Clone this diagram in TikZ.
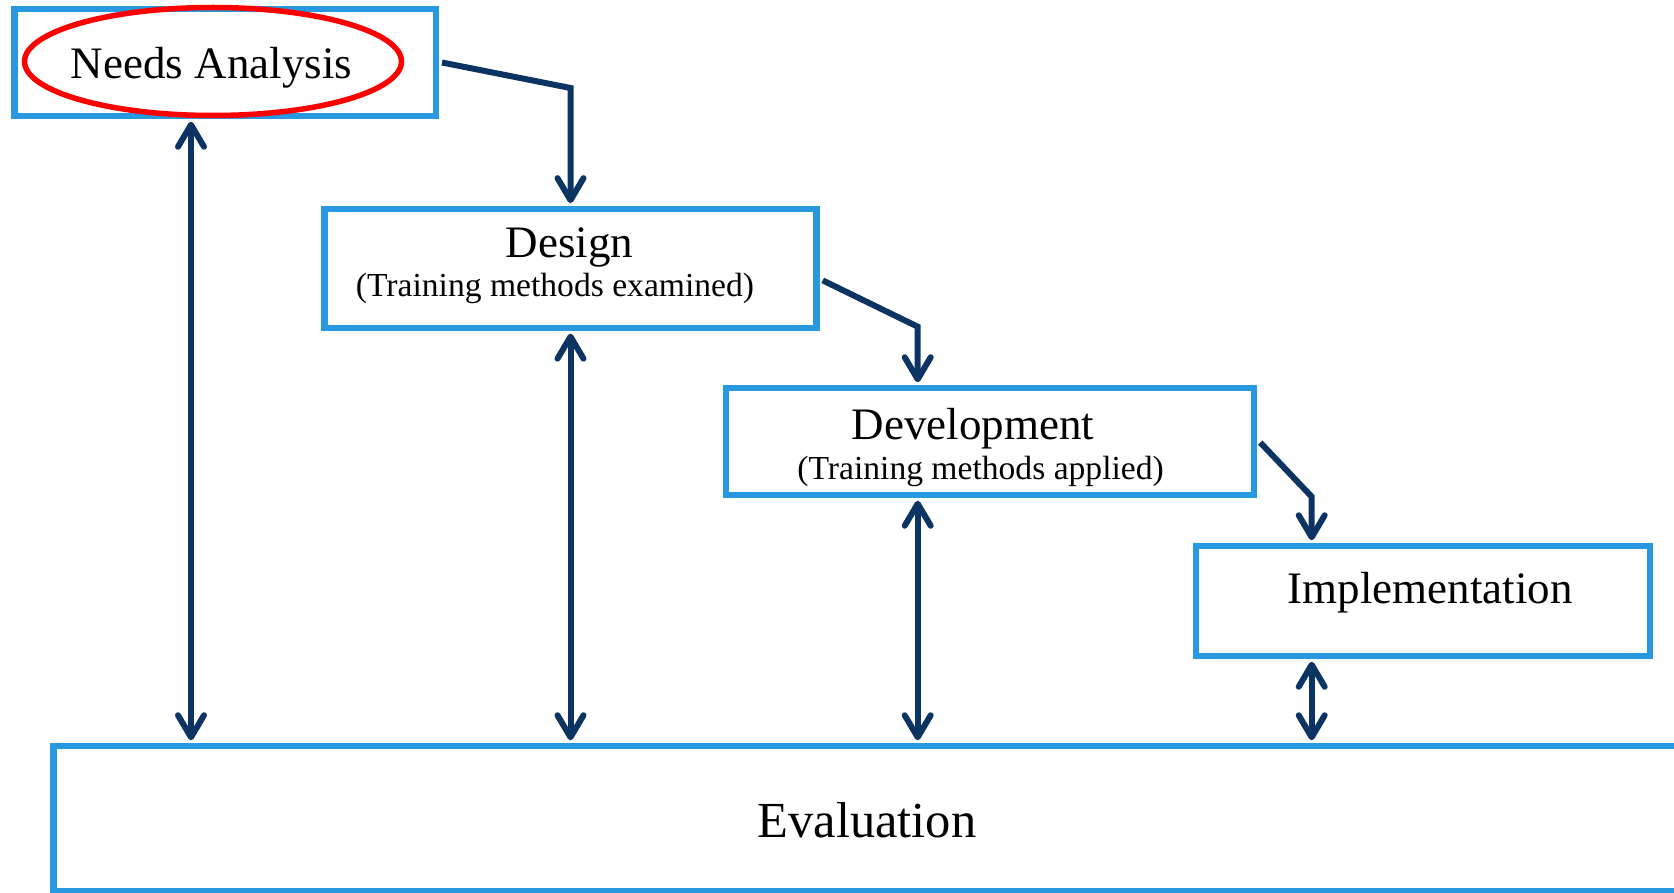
\documentclass[tikz,border=0pt]{standalone}
\usepackage{fontspec}
\setmainfont{Liberation Serif}
\usetikzlibrary{arrows.meta,shapes.geometric}
\definecolor{boxblue}{RGB}{40,152,224}
\definecolor{navy}{RGB}{12,52,98}
\begin{document}
\begin{tikzpicture}[x=1pt,y=-1pt,
  stagebox/.style={draw=boxblue,line width=6.5pt,rectangle,inner sep=0pt},
  lbl/.style={anchor=base,inner sep=0pt,text=black},
  big/.style={font=\fontsize{45}{50}\selectfont},
  small/.style={font=\fontsize{33.6}{38}\selectfont},
  barb/.tip={Straight Barb[length=22pt,width=26pt,round]},
  conn/.style={draw=navy,line width=6pt,-barb,shorten >=2.5pt},
  both/.style={draw=navy,line width=6pt,barb-barb,shorten >=2.5pt,shorten <=2.5pt}]
\useasboundingbox (0,0) rectangle (1674,893);
\clip (0,0) rectangle (1674,893);

\node[stagebox,minimum width=421.5pt,minimum height=107pt] (needs) at (225,62.5) {};
\node[ellipse,draw=red,line width=5.5pt,minimum width=377pt,minimum height=108pt,inner sep=0pt] (needsel) at (213,61.5) {};
\node[lbl,big] (needst) at (211.5,78.3) {Needs Analysis};

\node[stagebox,minimum width=492pt,minimum height=119pt] (design) at (570.5,268.4) {};
\node[lbl,big] (designt) at (569.5,257.7) {Design};
\node[lbl,small] (designs) at (555,297) {(Training methods examined)};

\node[stagebox,minimum width=528pt,minimum height=107pt] (dev) at (990,441.5) {};
\node[lbl,big] (devt) at (973,439) {Development};
\node[lbl,small] (devs) at (980.6,479) {(Training methods applied)};

\node[stagebox,minimum width=454pt,minimum height=110pt] (impl) at (1423,601) {};
\node[lbl,big] (implt) at (1430,603) {Implementation};

\node[stagebox,minimum width=1636.5pt,minimum height=145pt] (eval) at (871.75,818.5) {};
\node[lbl,font=\fontsize{50.5}{55}\selectfont] (evalt) at (867,837) {Evaluation};

\coordinate (k1) at (570.5,88);
\coordinate (k2) at (917.7,326.7);
\coordinate (k3) at (1311.7,496.7);
\coordinate (v1) at (191,0);

\draw[conn] ([xshift=3pt]needs.east) -- (k1) -- (design.north -| k1);
\draw[conn] ([xshift=3pt,yshift=-12pt]design.east) -- (k2) -- (dev.north -| k2);
\draw[conn] ([xshift=3pt,yshift=-1pt]dev.east) -- (k3) -- (impl.north -| k3);

\draw[both] (needs.south -| v1) -- (eval.north -| v1);
\draw[both] (design.south -| k1) -- (eval.north -| k1);
\draw[both] (dev.south -| k2) -- (eval.north -| k2);
\draw[both] (impl.south -| k3) -- (eval.north -| k3);
\end{tikzpicture}
\end{document}
